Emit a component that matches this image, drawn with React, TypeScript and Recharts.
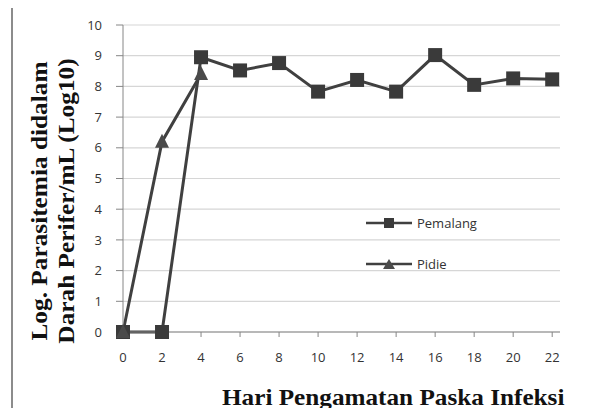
import { LineChart, Line, XAxis, YAxis, CartesianGrid } from "recharts";

const days = [0, 2, 4, 6, 8, 10, 12, 14, 16, 18, 20, 22];
const pemalang = [0, 0, 8.95, 8.52, 8.76, 7.83, 8.21, 7.83, 9.02, 8.05, 8.26, 8.23];
const pidie: (number | null)[] = [0, 6.2, 8.4, null, null, null, null, null, null, null, null, null];
const yTicks = [0, 1, 2, 3, 4, 5, 6, 7, 8, 9, 10];

const data = days.map((d, i) => ({ day: d, Pemalang: pemalang[i], Pidie: pidie[i] }));

const DARK = "#404040";
const serif = "'Liberation Serif', 'Times New Roman', serif";
const sans = "'Open Sans', 'Liberation Sans', sans-serif";

function Square(props: any) {
  const { cx, cy } = props;
  if (cx == null || cy == null) return null;
  return <rect x={cx - 7} y={cy - 7} width={14} height={14} fill="#3a3a3a" />;
}

function Triangle(props: any) {
  const { cx, cy } = props;
  if (cx == null || cy == null) return null;
  return <polygon points={`${cx},${cy - 8} ${cx - 7},${cy + 6} ${cx + 7},${cy + 6}`} fill="#4a4a4a" />;
}

function LegendBox() {
  const row = (name: string, square: boolean) => (
    <div style={{ display: "flex", alignItems: "center", height: 20, marginBottom: 21 }}>
      <svg width={48} height={14}>
        <line x1={0} y1={7} x2={46} y2={7} stroke={DARK} strokeWidth={2.5} />
        {square ? <rect x={18} y={2} width={10} height={10} fill="#3a3a3a" /> : <polygon points="23,2 17,12 29,12" fill="#4a4a4a" />}
      </svg>
      <span style={{ fontFamily: sans, fontSize: 13, color: "#333", marginLeft: 3 }}>{name}</span>
    </div>
  );
  return (
    <div style={{ position: "absolute", left: 366, top: 213 }}>
      {row("Pemalang", true)}
      {row("Pidie", false)}
    </div>
  );
}

export default function App() {
  return (
    <div style={{ position: "relative", margin: -8, width: 602, height: 416, background: "#fff", overflow: "hidden" }}>
      <div style={{ position: "absolute", left: 0, top: 0 }}>
        <LineChart width={602} height={416} data={data} margin={{ top: 25, right: 42, bottom: 54, left: 73 }}>
          <CartesianGrid horizontal vertical={false} stroke="#d6d6d6" strokeWidth={1.2} />
          <XAxis
            dataKey="day"
            type="number"
            domain={[0, 22.4]}
            ticks={days}
            interval={0}
            tickSize={5}
            tickMargin={16}
            stroke="#868686"
            tick={{ fill: "#333", fontSize: 13, fontFamily: sans }}
          />
          <YAxis
            width={50}
            domain={[0, 10]}
            ticks={yTicks}
            interval={0}
            tickSize={7}
            tickMargin={14}
            stroke="#868686"
            tick={{ fill: "#333", fontSize: 13, fontFamily: sans }}
          />
          <Line dataKey="Pemalang" stroke={DARK} strokeWidth={3} dot={<Square />} isAnimationActive={false} />
          <Line dataKey="Pidie" stroke={DARK} strokeWidth={3} dot={<Triangle />} isAnimationActive={false} />
        </LineChart>
      </div>
      <LegendBox />
      <div
        style={{
          position: "absolute",
          left: 53,
          top: 201,
          width: 300,
          transform: "translate(-50%, -50%) rotate(-90deg) scaleX(1.1)",
          fontFamily: serif,
          fontWeight: "bold",
          fontSize: 23,
          lineHeight: "27px",
          color: "#111",
          textAlign: "center",
          whiteSpace: "nowrap",
        }}
      >
        Log. Parasitemia didalam
        <br />
        Darah Perifer/mL (Log10)
      </div>
      <div
        style={{
          position: "absolute",
          left: 222,
          top: 385,
          transformOrigin: "0 0",
          transform: "scaleX(1.096)",
          fontFamily: serif,
          fontWeight: "bold",
          fontSize: 23,
          color: "#111",
          whiteSpace: "nowrap",
        }}
      >
        Hari Pengamatan Paska Infeksi
      </div>
      <svg width={602} height={416} style={{ position: "absolute", left: 0, top: 0, pointerEvents: "none" }}>
        <path d="M12,416 V6 H602" fill="none" stroke="#8c8c8c" strokeWidth={2} />
      </svg>
    </div>
  );
}
